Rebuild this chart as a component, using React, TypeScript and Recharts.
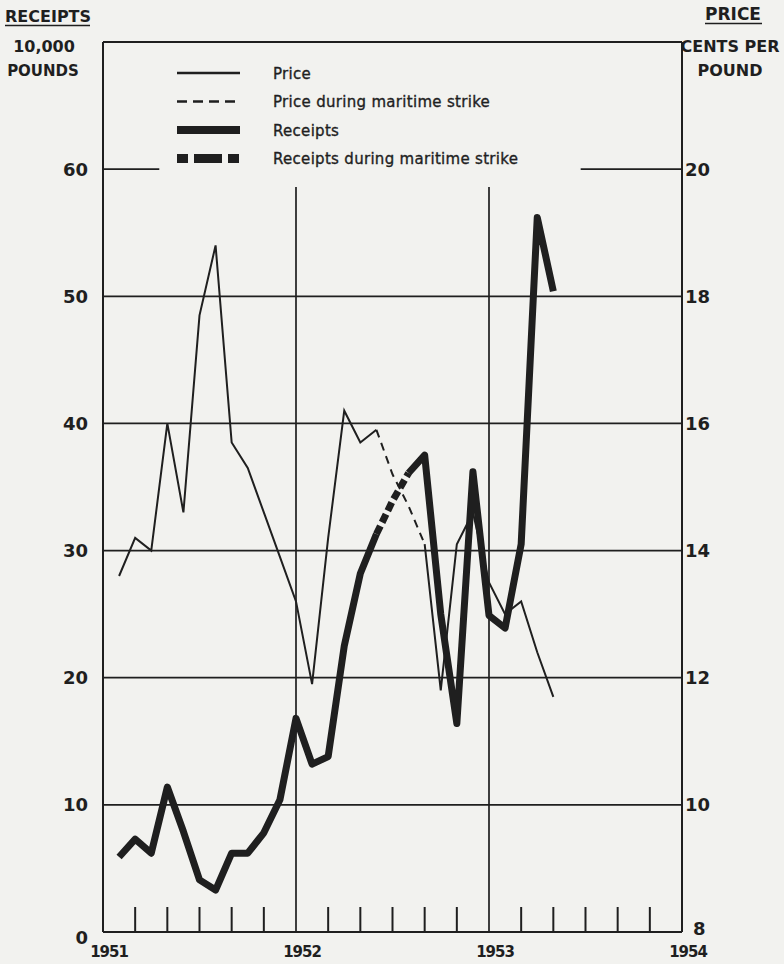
import React from 'react'
import { ComposedChart, Line, XAxis, YAxis, ReferenceLine, Legend } from 'recharts'

const INK = '#1f1f1f'
const PAPER = '#f2f2ef'
const FONT = '"DejaVu Sans", sans-serif'

// month index counted from January 1951 = 0
const months = [1, 2, 3, 4, 5, 6, 7, 8, 9, 10, 11, 12, 13, 14, 15, 16, 17, 18, 19, 20, 21, 22, 23, 24, 25, 26, 27, 28]
// cents per pound
const price = [13.6, 14.2, 14.0, 16.0, 14.6, 17.7, 18.8, 15.7, 15.3, 14.6, 13.9, 13.2, 11.9, 14.2, 16.2, 15.7, 15.9, 15.2, 14.7, 14.1, 11.8, 14.1, 14.6, 13.5, 13.0, 13.2, 12.4, 11.7]
// 10,000 pounds
const receipts = [5.9, 7.3, 6.2, 11.4, 7.9, 4.1, 3.3, 6.2, 6.2, 7.8, 10.4, 16.8, 13.2, 13.8, 22.5, 28.2, 31.3, 33.9, 36.1, 37.5, 25.0, 16.4, 36.2, 24.9, 23.9, 30.5, 56.2, 50.4]

const strikeFrom = 17
const priceStrikeTo = 20
const receiptsStrikeTo = 19

const yearTicks = [0, 12, 24, 36]
const yearLabels = ['1951', '1952', '1953', '1954']
const monthTicks = [0, 2, 4, 6, 8, 10, 12, 14, 16, 18, 20, 22, 24, 26, 28, 30, 32, 34, 36]
const receiptsTicks = [0, 10, 20, 30, 40, 50, 60]
const priceTicks = [8, 10, 12, 14, 16, 18, 20]
const gridLevels = [10, 20, 30, 40, 50]
const yearLines = [12, 24]

const legendItems = [
  { label: 'Price', width: 2.3, dash: undefined },
  { label: 'Price during maritime strike', width: 2.5, dash: '10 6' },
  { label: 'Receipts', width: 8, dash: undefined },
  { label: 'Receipts during maritime strike', width: 9, dash: '11 6 28 6 11' },
]

const data = months.map((m, i) => ({
  m,
  price: m <= strikeFrom || m >= priceStrikeTo ? price[i] : null,
  priceStrike: m >= strikeFrom && m <= priceStrikeTo ? price[i] : null,
  receipts: m <= strikeFrom || m >= receiptsStrikeTo ? receipts[i] : null,
  receiptsStrike: m >= strikeFrom && m <= receiptsStrikeTo ? receipts[i] : null,
}))

function MonthTick({ x, y, payload }: any) {
  const i = yearTicks.indexOf(payload.value)
  if (i >= 0) {
    return (
      <text x={x + 6} y={y + 25} textAnchor="middle" fill={INK} fontFamily={FONT} fontWeight="bold" fontSize={15} letterSpacing={-1}>
        {yearLabels[i]}
      </text>
    )
  }
  return <line x1={x} x2={x} y1={y} y2={y - 25} stroke={INK} strokeWidth={2} />
}

function LeftTick({ x, y, payload }: any) {
  return (
    <text x={x} y={y} dy={payload.value === 0 ? 12 : 6.5} textAnchor="end" fill={INK} fontFamily={FONT} fontWeight="bold" fontSize={18}>
      {payload.value}
    </text>
  )
}

function RightTick({ x, y, payload }: any) {
  return (
    <text x={x + (payload.value === 8 ? 8 : 0)} y={y} dy={payload.value === 8 ? 3 : 6.5} textAnchor="start" fill={INK} fontFamily={FONT} fontWeight="bold" fontSize={18}>
      {payload.value}
    </text>
  )
}

function LegendBox() {
  return (
    <svg width={420} height={110}>
      {legendItems.map((it, i) => {
        const y = 13 + i * 28.5
        return (
          <g key={it.label}>
            <line x1={7} x2={70} y1={y} y2={y} stroke={INK} strokeWidth={it.width} strokeDasharray={it.dash} />
            <text x={103} y={y + 5.5} fill={INK} stroke={INK} strokeWidth={0.35} fontFamily={FONT} fontSize={15} letterSpacing={0.3}>
              {it.label}
            </text>
          </g>
        )
      })}
    </svg>
  )
}

export default function App() {
  return (
    <div style={{ position: 'absolute', left: 0, top: 0, width: 784, height: 964, background: PAPER }}>
      <ComposedChart width={784} height={964} data={data} margin={{ top: 42, right: 42, bottom: 2, left: 43 }}>
        <XAxis
          xAxisId="m"
          dataKey="m"
          type="number"
          domain={[0, 36]}
          ticks={monthTicks}
          interval={0}
          height={30}
          tickLine={false}
          tickSize={0}
          tickMargin={0}
          axisLine={{ stroke: INK, strokeWidth: 2 }}
          tick={<MonthTick />}
        />
        <YAxis
          yAxisId="left"
          domain={[0, 70]}
          ticks={receiptsTicks}
          interval={0}
          width={60}
          tickLine={false}
          tickSize={0}
          tickMargin={15}
          axisLine={{ stroke: INK, strokeWidth: 2 }}
          tick={<LeftTick />}
        />
        <YAxis
          yAxisId="right"
          orientation="right"
          domain={[8, 22]}
          ticks={priceTicks}
          interval={0}
          width={60}
          tickLine={false}
          tickSize={0}
          tickMargin={3}
          axisLine={{ stroke: INK, strokeWidth: 2 }}
          tick={<RightTick />}
        />
        <ReferenceLine xAxisId="m" yAxisId="left" y={70} stroke={INK} strokeWidth={2} ifOverflow="visible" />
        {gridLevels.map((v) => (
          <ReferenceLine key={v} xAxisId="m" yAxisId="left" y={v} stroke={INK} strokeWidth={1.7} />
        ))}
        <ReferenceLine xAxisId="m" yAxisId="left" segment={[{ x: 0, y: 60 }, { x: 3.5, y: 60 }]} stroke={INK} strokeWidth={1.7} />
        <ReferenceLine xAxisId="m" yAxisId="left" segment={[{ x: 29.7, y: 60 }, { x: 36, y: 60 }]} stroke={INK} strokeWidth={1.7} />
        {yearLines.map((m) => (
          <ReferenceLine key={m} xAxisId="m" yAxisId="left" segment={[{ x: m, y: 0 }, { x: m, y: 58.6 }]} stroke={INK} strokeWidth={1.7} />
        ))}
        <Line xAxisId="m" yAxisId="right" type="linear" dataKey="price" stroke={INK} strokeWidth={2} strokeMiterlimit={6} dot={false} connectNulls={false} isAnimationActive={false} />
        <Line xAxisId="m" yAxisId="right" type="linear" dataKey="priceStrike" stroke={INK} strokeWidth={2} strokeDasharray="8 6" dot={false} connectNulls={false} isAnimationActive={false} />
        <Line xAxisId="m" yAxisId="left" type="linear" dataKey="receipts" stroke={INK} strokeWidth={7} strokeLinejoin="round" dot={false} connectNulls={false} isAnimationActive={false} />
        <Line xAxisId="m" yAxisId="left" type="linear" dataKey="receiptsStrike" stroke={INK} strokeWidth={7} strokeDasharray="9 4" dot={false} connectNulls={false} isAnimationActive={false} />
        <Legend
          layout="vertical"
          align="center"
          verticalAlign="middle"
          wrapperStyle={{ position: 'absolute', left: 170, top: 60, width: 420, height: 110 }}
          content={() => <LegendBox />}
        />
      </ComposedChart>
      <svg width={784} height={964} style={{ position: 'absolute', left: 0, top: 0, pointerEvents: 'none' }}>
        <g fill={INK} fontFamily={FONT} fontWeight="bold">
          <text x={5} y={22} fontSize={16}>RECEIPTS</text>
          <line x1={5} x2={90} y1={25.5} y2={25.5} stroke={INK} strokeWidth={1.6} />
          <text x={44} y={52} fontSize={16} textAnchor="middle">10,000</text>
          <text x={43} y={76} fontSize={15} textAnchor="middle">POUNDS</text>
          <text x={733} y={20} fontSize={17} textAnchor="middle">PRICE</text>
          <line x1={705} x2={762} y1={23.5} y2={23.5} stroke={INK} strokeWidth={1.6} />
          <text x={730} y={52} fontSize={16} textAnchor="middle">CENTS PER</text>
          <text x={730} y={76} fontSize={16} textAnchor="middle">POUND</text>
        </g>
      </svg>
    </div>
  )
}
